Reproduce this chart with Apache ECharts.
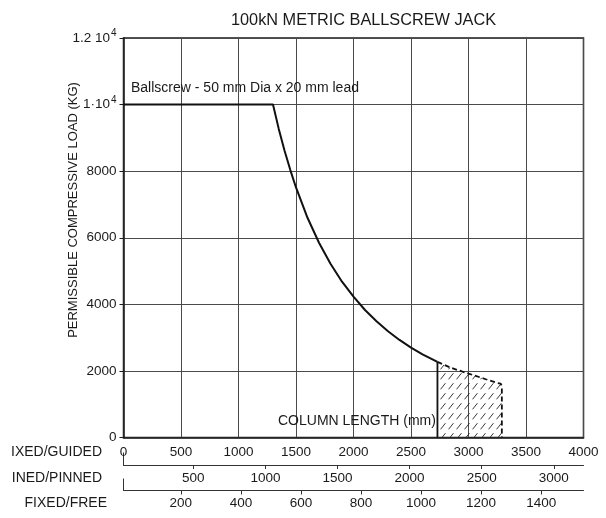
<!DOCTYPE html>
<html>
<head>
<meta charset="utf-8">
<script src="https://cdn.jsdelivr.net/npm/echarts@6/dist/echarts.min.js"></script>
<style>html,body{margin:0;padding:0;background:#fff;}#c{width:606px;height:518px;}</style>
</head>
<body>
<div id="c"></div>
<script>
// ---- data ----
const titleText = '100kN METRIC BALLSCREW JACK';
const curveLabel = 'Ballscrew - 50 mm Dia x 20 mm lead';
const xAxisTitle = 'COLUMN LENGTH (mm)';
const yAxisTitle = 'PERMISSIBLE COMPRESSIVE LOAD (KG)';
const scaleNames = ['IXED/GUIDED', 'INED/PINNED', 'FIXED/FREE'];

// solid (permissible) part of the curve: column length (mm) vs load (kg)
const lengthSolid = [0, 1300, 1350, 1400, 1450, 1500, 1600, 1700, 1800, 1900, 2000, 2100, 2200, 2300, 2400, 2500, 2600, 2730];
const loadSolid   = [10000, 10000, 9270, 8620, 8040, 7510, 6600, 5850, 5220, 4680, 4230, 3830, 3490, 3190, 2930, 2700, 2500, 2270];
// dashed (hatched) part
const lengthDash = [2730, 2850, 3000, 3150, 3250, 3280, 3290, 3290];
const loadDash   = [2270, 2090, 1920, 1750, 1640, 1620, 1540, 0];

// axis scales
const guidedRange = [0, 4000];
const guidedTicks = [0, 500, 1000, 1500, 2000, 2500, 3000, 3500, 4000];
const pinnedRange = [16, 3206];
const pinnedTicks = [500, 1000, 1500, 2000, 2500, 3000];
const freeRange = [9, 1541];
const freeTicks = [200, 400, 600, 800, 1000, 1200, 1400];
const loadRange = [0, 12000];
const loadTicks = [0, 2000, 4000, 6000, 8000, 10000, 12000];

// ---- chart ----
const FONT = '"Liberation Sans", Arial, Helvetica, sans-serif';
const INK = '#1a1a1a';
const plain = v => String(v);

function hatchPattern() {
  const c = document.createElement('canvas');
  c.width = 8; c.height = 10;
  const g = c.getContext('2d');
  g.strokeStyle = '#222';
  g.lineWidth = 0.9;
  g.lineCap = 'round';
  g.beginPath();
  g.moveTo(0.8, 9.0); g.lineTo(5.2, 3.5);
  g.stroke();
  return c;
}

const chart = echarts.init(document.getElementById('c'), null, {renderer: 'canvas'});

const zip = (a, b) => a.map((v, i) => [v, b[i]]);

// a secondary length scale drawn as a plain axis under the chart
function scaleAxis(grid, range, ticks) {
  return [
    {
      gridIndex: grid, type: 'value', min: range[0], max: range[1],
      axisLine: {show: true, lineStyle: {color: '#333', width: 1}},
      axisTick: {show: true, length: 4, lineStyle: {color: '#333'}, customValues: ticks},
      axisLabel: {fontFamily: FONT, fontSize: 13.5, color: INK, margin: 6, customValues: ticks, formatter: plain},
      splitLine: {show: false}
    },
    {
      // the end mark below the start of the scale
      gridIndex: grid, type: 'value', min: range[0], max: range[1],
      axisLine: {show: false},
      axisTick: {show: true, length: 8, lineStyle: {color: '#333'}, customValues: [range[0]]},
      axisLabel: {show: false},
      splitLine: {show: false}
    }
  ];
}

const option = {
  backgroundColor: '#fff',
  animation: false,
  textStyle: {fontFamily: FONT},
  title: {
    text: titleText, left: 226, top: 8,
    textStyle: {fontFamily: FONT, fontSize: 16.3, fontWeight: 'normal', color: INK}
  },
  grid: [
    {left: 123.5, right: 22.5, top: 38, height: 399.5, show: true, borderColor: INK, borderWidth: 1.5},
    {left: 123.5, right: 22.5, top: 460.5, height: 4.5},
    {left: 123.5, right: 22.5, top: 486.5, height: 4}
  ],
  xAxis: [
    {
      gridIndex: 0, type: 'value', min: guidedRange[0], max: guidedRange[1], interval: 500,
      axisLine: {show: true, lineStyle: {color: INK, width: 1.5}},
      axisTick: {show: false},
      axisLabel: {fontFamily: FONT, fontSize: 13.5, color: INK, margin: 8,
                  customValues: guidedTicks, formatter: plain},
      splitLine: {show: true, lineStyle: {color: '#4a4a4a', width: 1}}
    }
  ].concat(scaleAxis(1, pinnedRange, pinnedTicks), scaleAxis(2, freeRange, freeTicks)),
  yAxis: [
    {
      gridIndex: 0, type: 'value', min: loadRange[0], max: loadRange[1], interval: 2000,
      axisLine: {show: true, lineStyle: {color: INK, width: 1.5}},
      axisTick: {show: true, length: 4, lineStyle: {color: INK}},
      axisLabel: {
        fontFamily: FONT, fontSize: 13.5, color: INK, margin: 7,
        customValues: loadTicks,
        formatter: function (v) {
          if (v === 10000) return '{n|1·10}{s|4}';
          if (v === 12000) return '{n|1.2 10}{s|4}';
          return '{n|' + v + '}';
        },
        rich: {
          n: {fontFamily: FONT, fontSize: 13.5, color: INK},
          s: {fontFamily: FONT, fontSize: 10, color: INK, padding: [0, 0, 9, 1]}
        }
      },
      splitLine: {show: true, lineStyle: {color: '#4a4a4a', width: 1}}
    },
    {
      gridIndex: 1, type: 'value', min: 0, max: 1,
      axisLine: {show: true, lineStyle: {color: '#333', width: 1}},
      axisTick: {show: false}, axisLabel: {show: false}, splitLine: {show: false}
    },
    {
      gridIndex: 2, type: 'value', min: 0, max: 1,
      axisLine: {show: true, lineStyle: {color: '#333', width: 1}},
      axisTick: {show: false}, axisLabel: {show: false}, splitLine: {show: false}
    }
  ],
  series: [
    {
      name: 'hatch', type: 'line', xAxisIndex: 0, yAxisIndex: 0,
      data: zip(lengthDash, loadDash),
      showSymbol: false, smooth: false,
      lineStyle: {color: '#111', width: 1.8, type: [5, 3]},
      areaStyle: {color: {image: hatchPattern(), repeat: 'repeat'}, opacity: 1},
      z: 3
    },
    {
      name: 'edge', type: 'line', xAxisIndex: 0, yAxisIndex: 0,
      data: [[lengthDash[0], 0], [lengthDash[0], loadDash[0]]],
      showSymbol: false,
      lineStyle: {color: '#111', width: 1.8},
      z: 4
    },
    {
      name: 'load', type: 'line', xAxisIndex: 0, yAxisIndex: 0,
      data: zip(lengthSolid, loadSolid),
      showSymbol: false, smooth: false,
      lineStyle: {color: '#111', width: 2},
      z: 5
    }
  ],
  graphic: [
    {type: 'text', left: 131, top: 81,
     style: {text: curveLabel, font: '14px ' + FONT, fill: INK}, z: 10},
    {type: 'text', left: 278, top: 414,
     style: {text: xAxisTitle, font: '14px ' + FONT, fill: INK}, z: 10},
    {type: 'text', x: 73, y: 210, rotation: Math.PI / 2,
     style: {text: yAxisTitle, font: '13px ' + FONT, fill: INK, align: 'center', verticalAlign: 'middle'}, z: 10},
    {type: 'text', x: 102, y: 452,
     style: {text: scaleNames[0], font: '14px ' + FONT, fill: INK, align: 'right', verticalAlign: 'middle'}},
    {type: 'text', x: 102, y: 478,
     style: {text: scaleNames[1], font: '14px ' + FONT, fill: INK, align: 'right', verticalAlign: 'middle'}},
    {type: 'text', x: 107, y: 503,
     style: {text: scaleNames[2], font: '14px ' + FONT, fill: INK, align: 'right', verticalAlign: 'middle'}}
  ]
};
chart.setOption(option);
</script>
</body>
</html>
